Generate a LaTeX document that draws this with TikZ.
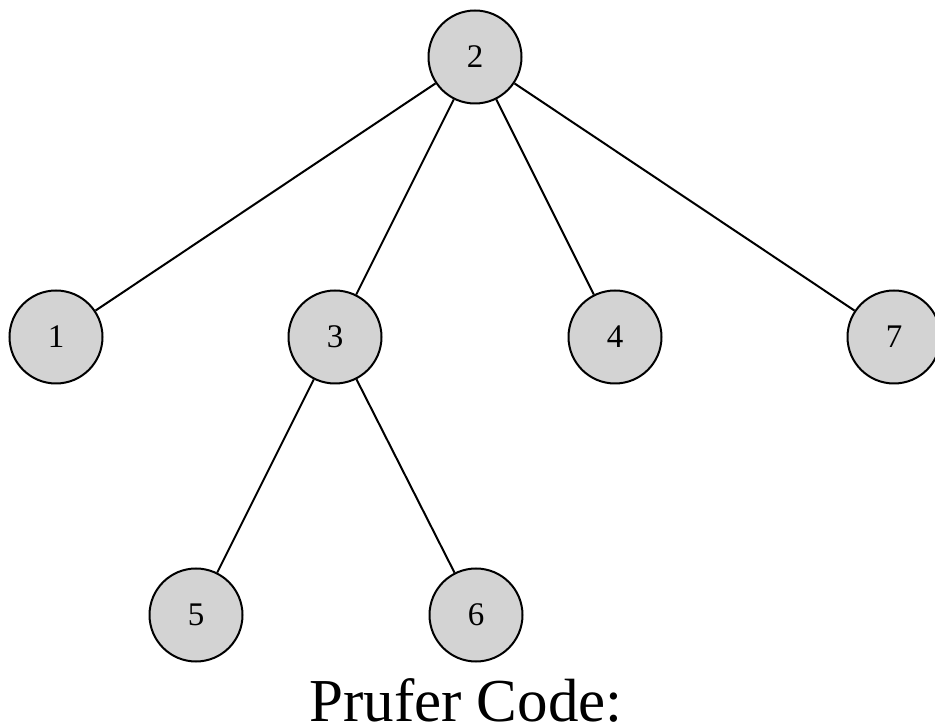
\documentclass[tikz,border=0pt]{standalone}
\usepackage{fontspec}
\setmainfont{Liberation Serif}
\begin{document}
\begin{tikzpicture}[x=1pt,y=1pt,
  vtx/.style={circle,draw=black,line width=2pt,fill=vgray,minimum size=93pt,inner sep=0pt,font=\fontsize{33}{36}\selectfont},
  edge/.style={line width=2pt,draw=black}]
\definecolor{vgray}{RGB}{211,211,211}
\useasboundingbox (0,0) rectangle (935,726);
\node[vtx] (n2) at (475,669) {2};
\node[vtx] (n1) at (56,389) {1};
\node[vtx] (n3) at (335,389) {3};
\node[vtx] (n4) at (615,389) {4};
\node[vtx] (n7) at (894,389) {7};
\node[vtx] (n5) at (196,111) {5};
\node[vtx] (n6) at (476,111) {6};
\draw[edge] (n2) -- (n1);
\draw[edge] (n2) -- (n3);
\draw[edge] (n2) -- (n4);
\draw[edge] (n2) -- (n7);
\draw[edge] (n3) -- (n5);
\draw[edge] (n3) -- (n6);
\node[anchor=base,inner sep=0pt,font=\fontsize{61}{66}\selectfont] (title) at (466,5) {Prufer Code:};
\end{tikzpicture}
\end{document}
